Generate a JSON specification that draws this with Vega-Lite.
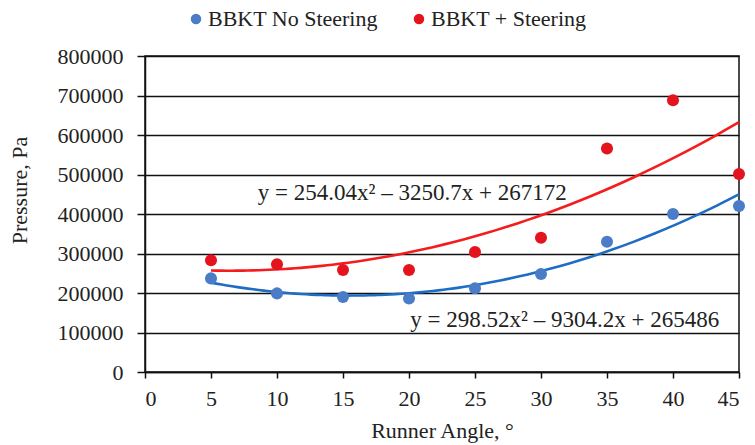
{
  "$schema": "https://vega.github.io/schema/vega-lite/v6.json",
  "width": 594,
  "height": 316,
  "autosize": {"type": "none"},
  "padding": {"left": 145, "top": 56, "right": 16, "bottom": 73},
  "background": "white",
  "config": {
    "font": "Liberation Serif",
    "view": {"stroke": "#111", "strokeWidth": 1.5},
    "axis": {
      "labelFont": "Liberation Serif",
      "labelFontSize": 22,
      "labelColor": "#222",
      "titleFont": "Liberation Serif",
      "titleFontSize": 22,
      "titleFontWeight": "normal",
      "titleColor": "#222",
      "domainColor": "#111",
      "domainWidth": 1.5,
      "tickColor": "#111",
      "tickWidth": 1.5
    },
    "legend": {
      "labelFont": "Liberation Serif",
      "labelFontSize": 22,
      "labelColor": "#222",
      "labelLimit": 400
    }
  },
  "data": {
    "values": [
      {"angle": 5, "pressure": 237000, "series": "BBKT No Steering"},
      {"angle": 10, "pressure": 199000, "series": "BBKT No Steering"},
      {"angle": 15, "pressure": 190000, "series": "BBKT No Steering"},
      {"angle": 20, "pressure": 186000, "series": "BBKT No Steering"},
      {"angle": 25, "pressure": 212000, "series": "BBKT No Steering"},
      {"angle": 30, "pressure": 248000, "series": "BBKT No Steering"},
      {"angle": 35, "pressure": 330000, "series": "BBKT No Steering"},
      {"angle": 40, "pressure": 400000, "series": "BBKT No Steering"},
      {"angle": 45, "pressure": 420000, "series": "BBKT No Steering"},
      {"angle": 5, "pressure": 283000, "series": "BBKT + Steering"},
      {"angle": 10, "pressure": 273000, "series": "BBKT + Steering"},
      {"angle": 15, "pressure": 258000, "series": "BBKT + Steering"},
      {"angle": 20, "pressure": 258000, "series": "BBKT + Steering"},
      {"angle": 25, "pressure": 304000, "series": "BBKT + Steering"},
      {"angle": 30, "pressure": 340000, "series": "BBKT + Steering"},
      {"angle": 35, "pressure": 566000, "series": "BBKT + Steering"},
      {"angle": 40, "pressure": 688000, "series": "BBKT + Steering"},
      {"angle": 45, "pressure": 501000, "series": "BBKT + Steering"}
    ]
  },
  "encoding": {
    "x": {
      "field": "angle",
      "type": "quantitative",
      "scale": {"domain": [0, 45], "nice": false, "zero": false},
      "axis": {
        "title": "Runner Angle, °",
        "values": [0, 5, 10, 15, 20, 25, 30, 35, 40, 45],
        "grid": false,
        "tickSize": 6,
        "labelPadding": 10,
        "titlePadding": 11,
        "format": "d"
      }
    },
    "y": {
      "field": "pressure",
      "type": "quantitative",
      "scale": {"domain": [0, 800000], "nice": false},
      "axis": {
        "title": "Pressure, Pa",
        "values": [0, 100000, 200000, 300000, 400000, 500000, 600000, 700000, 800000],
        "format": "d",
        "grid": true,
        "gridColor": "#111",
        "gridWidth": 1.5,
        "gridOpacity": 1,
        "tickSize": 8,
        "labelPadding": 14,
        "titleX": -114,
        "titleY": 134
      }
    }
  },
  "layer": [
    {
      "transform": [
        {
          "regression": "pressure",
          "on": "angle",
          "groupby": ["series"],
          "method": "poly",
          "order": 2,
          "extent": [5, 45]
        }
      ],
      "mark": {"type": "line", "strokeWidth": 2.6, "interpolate": "monotone"},
      "encoding": {
        "color": {
          "field": "series",
          "type": "nominal",
          "scale": {
            "domain": ["BBKT No Steering", "BBKT + Steering"],
            "range": ["#1f6cc4", "#f41c1c"]
          },
          "legend": null
        }
      }
    },
    {
      "mark": {"type": "circle", "size": 145, "opacity": 1},
      "encoding": {
        "color": {
          "field": "series",
          "type": "nominal",
          "scale": {
            "domain": ["BBKT No Steering", "BBKT + Steering"],
            "range": ["#4a7cc8", "#e3141e"]
          },
          "legend": {
            "orient": "none",
            "legendX": 40,
            "legendY": -48,
            "direction": "horizontal",
            "title": null,
            "symbolType": "circle",
            "symbolSize": 110,
            "columnPadding": 30,
            "labelOffset": 1
          }
        }
      }
    },
    {
      "transform": [{"filter": "datum.angle == 5 && datum.series == 'BBKT + Steering'"}],
      "mark": {
        "type": "text",
        "text": "y = 254.04x² – 3250.7x + 267172",
        "font": "Liberation Serif",
        "fontSize": 23,
        "color": "#222",
        "align": "left",
        "baseline": "middle"
      },
      "encoding": {
        "x": {"datum": 8.55},
        "y": {"datum": 453000}
      }
    },
    {
      "transform": [{"filter": "datum.angle == 5 && datum.series == 'BBKT No Steering'"}],
      "mark": {
        "type": "text",
        "text": "y = 298.52x² – 9304.2x + 265486",
        "font": "Liberation Serif",
        "fontSize": 23,
        "color": "#222",
        "align": "left",
        "baseline": "middle"
      },
      "encoding": {
        "x": {"datum": 20.1},
        "y": {"datum": 131600}
      }
    }
  ],
  "resolve": {"scale": {"color": "independent"}, "legend": {"color": "independent"}}
}
